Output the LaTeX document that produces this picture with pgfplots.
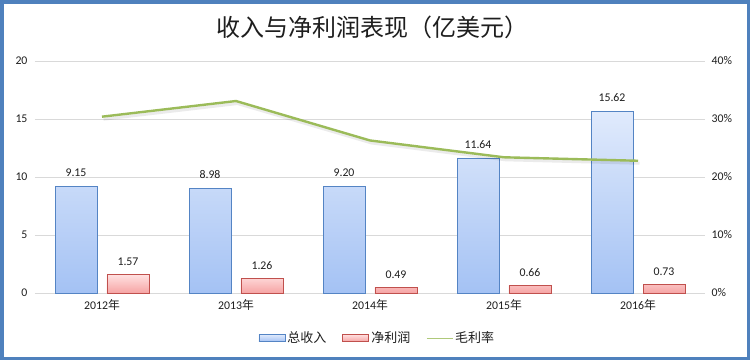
\documentclass[border=0pt]{standalone}
\usepackage{pgfplots}
\pgfplotsset{compat=1.18}
\usepackage{fontspec}
\setmainfont{Carlito}
\newfontfamily\cjk{Noto Sans CJK SC}
\definecolor{frameblue}{RGB}{79,129,189}
\definecolor{barblueT}{RGB}{224,234,252}
\definecolor{barblueB}{RGB}{164,194,244}
\definecolor{barblueD}{RGB}{84,132,196}
\definecolor{barredT}{RGB}{255,224,224}
\definecolor{barredB}{RGB}{246,164,164}
\definecolor{barredD}{RGB}{192,80,77}
\definecolor{linegreen}{RGB}{155,187,89}
\definecolor{txt}{RGB}{30,30,30}
\begin{document}
\begin{tikzpicture}[x=1pt,y=1pt]
\useasboundingbox (0,0) rectangle (750,360);
\fill[white] (0,0) rectangle (750,360);
\draw[frameblue, line width=3.5pt] (1.75,1.75) rectangle (748.25,358.25);
\node[font=\cjk\fontsize{24}{28}\selectfont, text=txt] at (372,333) {收入与净利润表现（亿美元）};
\begin{axis}[
  at={(35pt,67pt)}, anchor=south west,
  scale only axis, width=670pt, height=232pt,
  xmin=-0.5, xmax=4.5, ymin=0, ymax=20,
  ytick={0,5,10,15,20},
  xtick={0,1,2,3,4},
  xticklabels={{2012{\cjk 年}},{2013{\cjk 年}},{2014{\cjk 年}},{2015{\cjk 年}},{2016{\cjk 年}}},
  ymajorgrids, grid style={draw=black!15, line width=0.9pt},
  axis line style={draw=none}, major tick length=0pt,
  tick label style={font=\fontsize{11.8}{13}\selectfont, text=txt},
  yticklabel style={xshift=-4pt},
  xticklabel style={yshift=-3pt},
  /pgf/number format/assume math mode=true,
  axis x line*=bottom, axis y line*=left,
  clip=false,
]
\addplot[ybar, bar width=42pt, bar shift=0pt, draw=barblueD, line width=0.9pt,
  top color=barblueT, bottom color=barblueB,
  nodes near coords={\pgfmathprintnumber[fixed,fixed zerofill,precision=2,assume math mode=true]{\pgfplotspointmeta}},
  every node near coord/.append style={font=\fontsize{11.8}{13}\selectfont, text=txt, yshift=6pt}]
  coordinates {(-0.194,9.15) (0.806,8.98) (1.806,9.20) (2.806,11.64) (3.806,15.62)};
\addplot[ybar, bar width=42pt, bar shift=0pt, draw=barredD, line width=0.9pt,
  top color=barredT, bottom color=barredB,
  nodes near coords={\pgfmathprintnumber[fixed,fixed zerofill,precision=2,assume math mode=true]{\pgfplotspointmeta}},
  every node near coord/.append style={font=\fontsize{11.8}{13}\selectfont, text=txt, yshift=5pt}]
  coordinates {(0.194,1.57) (1.194,1.26) (2.194,0.49) (3.194,0.66) (4.194,0.73)};
\end{axis}
\begin{axis}[
  at={(35pt,67pt)}, anchor=south west,
  scale only axis, width=670pt, height=232pt,
  xmin=-0.5, xmax=4.5, ymin=0, ymax=40,
  ytick={0,10,20,30,40},
  yticklabel={\pgfmathprintnumber{\tick}\%},
  axis x line=none, axis y line*=right,
  axis line style={draw=none}, major tick length=0pt,
  tick label style={font=\fontsize{11.8}{13}\selectfont, text=txt},
  yticklabel style={xshift=3pt},
  /pgf/number format/assume math mode=true,
  legend style={at={(0.511,-0.194)}, anchor=center, draw=none, fill=none,
    legend columns=-1, font=\cjk\fontsize{13}{15}\selectfont, text=txt,
    /tikz/every even column/.append style={column sep=14pt}},
]
\addlegendimage{legend image code/.code={\path[draw=barblueD, line width=0.9pt, top color=barblueT, bottom color=barblueB] (0pt,-3.5pt) rectangle (26pt,3.5pt);}}
\addlegendentry{总收入}
\addlegendimage{legend image code/.code={\path[draw=barredD, line width=0.9pt, top color=barredT, bottom color=barredB] (0pt,-3.5pt) rectangle (26pt,3.5pt);}}
\addlegendentry{净利润}
\addplot[black, opacity=0.08, line width=3pt, forget plot, transform canvas={xshift=1.5pt, yshift=-2.5pt}]
  coordinates {(0,30.4) (1,33.1) (2,26.3) (3,23.4) (4,22.8)};
\addplot[linegreen, line width=2.4pt, legend image code/.code={\draw[linegreen!80, line width=0.9pt] (0pt,0pt) -- (26pt,0pt);}]
  coordinates {(0,30.4) (1,33.1) (2,26.3) (3,23.4) (4,22.8)};
\addlegendentry{毛利率}
\end{axis}
\end{tikzpicture}
\end{document}
